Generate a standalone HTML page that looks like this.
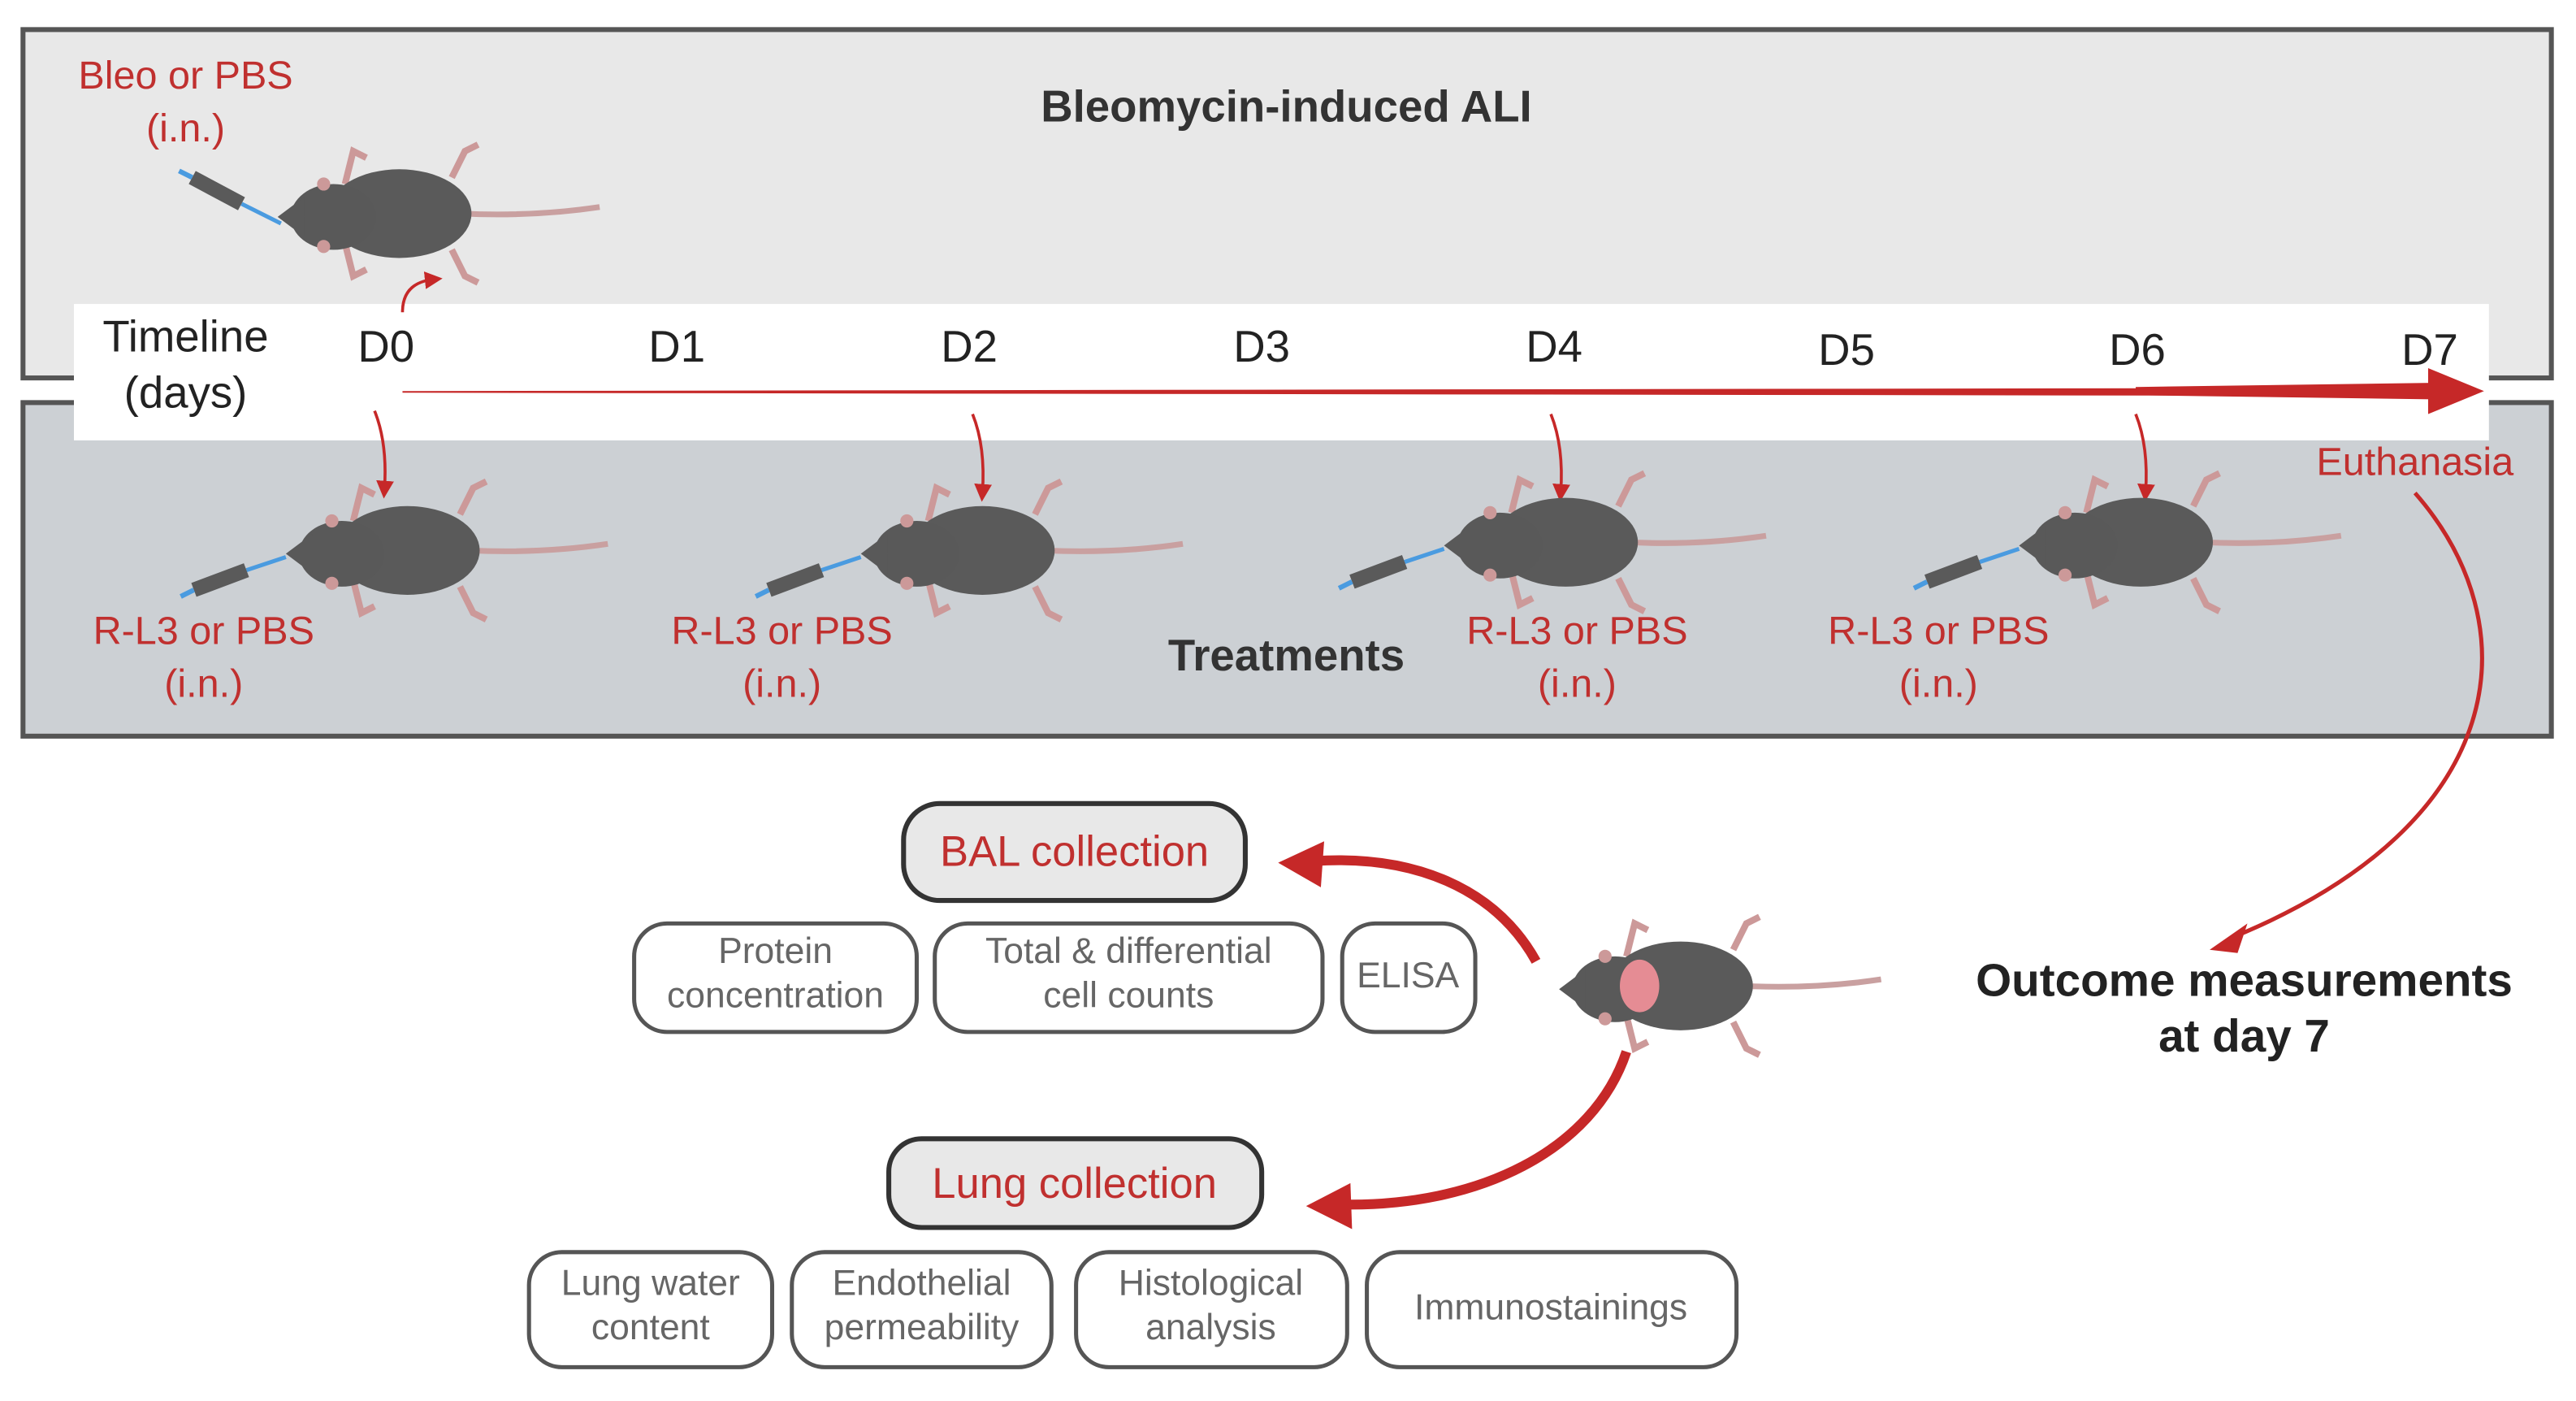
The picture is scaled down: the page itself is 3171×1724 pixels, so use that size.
<!DOCTYPE html>
<html><head><meta charset="utf-8"><style>
html,body{margin:0;padding:0;background:#fff;}
svg{display:block;}
text{font-family:"Liberation Sans",sans-serif;}
</style></head><body>
<svg width="3171" height="1724" viewBox="0 0 1568 852.6" preserveAspectRatio="none" xmlns="http://www.w3.org/2000/svg">
<defs>
<g id="m">
  <path d="M-25,-18 L-20,-38 L-12,-34 M40,-22 L48,-38 L56,-42 M-25,18 L-20,38 L-12,34 M40,22 L48,38 L56,42" stroke="#c99" stroke-width="4" fill="none"/>
  <path d="M46,0 Q90,2 130,-4" stroke="#c9a0a0" stroke-width="3.5" fill="none"/>
  <ellipse cx="8" cy="0" rx="44" ry="27" fill="#5a5a5a"/>
  <ellipse cx="-32" cy="2" rx="26" ry="20" fill="#595959"/>
  <path d="M-50,-10 L-66,2 L-50,14 Z" fill="#595959"/>
  <circle cx="-38" cy="-18" r="4" fill="#c99"/><circle cx="-38" cy="20" r="4" fill="#c99"/>
</g>
<g id="s">
  <path d="M-66,4 L-90,12" stroke="#4a9be0" stroke-width="2.5"/>
  <path d="M-90,12 L-122,24" stroke="#5a5a5a" stroke-width="9"/>
  <path d="M-122,24 L-130,28" stroke="#4a9be0" stroke-width="3"/>
</g>
<g id="su">
  <path d="M-64,6 L-88,-6" stroke="#4a9be0" stroke-width="2.5"/>
  <path d="M-88,-6 L-118,-22" stroke="#5a5a5a" stroke-width="9"/>
  <path d="M-118,-22 L-126,-26" stroke="#4a9be0" stroke-width="3"/>
</g>
<marker id="ah" markerWidth="6" markerHeight="6" refX="3" refY="3" orient="auto"><path d="M0,0 L6,3 L0,6 Z" fill="#c62828"/></marker>
</defs>
<rect x="14" y="18" width="1539" height="212" fill="#e8e8e8" stroke="#555" stroke-width="3"/>
<rect x="14" y="245" width="1539" height="203" fill="#ccd0d4" stroke="#555" stroke-width="3"/>
<rect x="45" y="185" width="1470" height="83" fill="#fff"/>
<text x="783" y="74" font-size="27" fill="#333" text-anchor="middle" font-weight="bold">Bleomycin-induced ALI</text>
<g fill="#c0302f" font-size="24" text-anchor="middle">
<text x="113" y="54">Bleo or PBS</text><text x="113" y="86">(i.n.)</text>
<text x="1470" y="289">Euthanasia</text>
<text x="124" y="392">R-L3 or PBS</text><text x="124" y="424">(i.n.)</text>
<text x="476" y="392">R-L3 or PBS</text><text x="476" y="424">(i.n.)</text>
<text x="960" y="392">R-L3 or PBS</text><text x="960" y="424">(i.n.)</text>
<text x="1180" y="392">R-L3 or PBS</text><text x="1180" y="424">(i.n.)</text>
</g>
<g font-size="27" fill="#222" text-anchor="middle">
<text x="113" y="214">Timeline</text><text x="113" y="248">(days)</text>
<text x="235" y="220">D0</text><text x="412" y="220">D1</text><text x="590" y="220">D2</text><text x="768" y="220">D3</text>
<text x="946" y="220">D4</text><text x="1124" y="222">D5</text><text x="1301" y="222">D6</text><text x="1479" y="222">D7</text>
</g>
<path d="M245,238 L1480,236 L1480,241 L245,239 Z" fill="#c62828"/>
<path d="M1300,235.5 L1480,233 L1480,243 L1300,240.5Z" fill="#c62828"/>
<path d="M1478,224 L1512,238 L1478,252 Z" fill="#c62828"/>
<text x="783" y="408" font-size="27" fill="#333" text-anchor="middle" font-weight="bold">Treatments</text>
<g stroke="#c62828" stroke-width="1.8" fill="none" marker-end="url(#ah)">
<path d="M245,190 Q245,172 264,170"/>
<path d="M228,250 Q236,270 234,298"/>
<path d="M592,252 Q600,272 598,300"/>
<path d="M944,252 Q952,272 950,300"/>
<path d="M1300,252 Q1308,272 1306,300"/>
</g>
<use href="#m" x="235" y="130"/><use href="#su" x="235" y="130"/>
<use href="#m" x="240" y="335"/><use href="#s" x="240" y="335"/>
<use href="#m" x="590" y="335"/><use href="#s" x="590" y="335"/>
<use href="#m" x="945" y="330"/><use href="#s" x="945" y="330"/>
<use href="#m" x="1295" y="330"/><use href="#s" x="1295" y="330"/>
<use href="#m" x="1015" y="600"/>
<ellipse cx="998" cy="600" rx="12" ry="16" fill="#e58c94"/>
<path d="M1470,300 C1540,380 1530,500 1360,570" stroke="#c62828" stroke-width="2.5" fill="none"/>
<path d="M1345,578 L1368,562 L1362,580 Z" fill="#c62828"/>
<g font-size="28" fill="#222" text-anchor="middle" font-weight="bold">
<text x="1366" y="606">Outcome measurements</text><text x="1366" y="640">at day 7</text>
</g>
<path d="M935,585 C910,540 860,520 800,524" stroke="#c62828" stroke-width="6" fill="none"/>
<path d="M778,525 L806,512 L804,540 Z" fill="#c62828"/>
<path d="M990,640 C970,700 900,735 815,733" stroke="#c62828" stroke-width="6" fill="none"/>
<path d="M795,734 L822,720 L823,748 Z" fill="#c62828"/>
<rect x="550" y="489" width="208" height="59" rx="22" fill="#e8e8e8" stroke="#333" stroke-width="3"/>
<rect x="541" y="693" width="227" height="54" rx="20" fill="#e8e8e8" stroke="#333" stroke-width="3"/>
<g font-size="26" fill="#c0302f" text-anchor="middle">
<text x="654" y="527">BAL collection</text><text x="654" y="729">Lung collection</text>
</g>
<g fill="#fff" stroke="#555" stroke-width="2.5">
<rect x="386" y="562" width="172" height="66" rx="20"/>
<rect x="569" y="562" width="236" height="66" rx="20"/>
<rect x="817" y="562" width="81" height="66" rx="20"/>
<rect x="322" y="762" width="148" height="70" rx="20"/>
<rect x="482" y="762" width="158" height="70" rx="20"/>
<rect x="655" y="762" width="165" height="70" rx="20"/>
<rect x="832" y="762" width="225" height="70" rx="20"/>
</g>
<g font-size="22" fill="#666" text-anchor="middle">
<text x="472" y="586">Protein</text><text x="472" y="613">concentration</text>
<text x="687" y="586">Total &amp; differential</text><text x="687" y="613">cell counts</text>
<text x="857" y="601">ELISA</text>
<text x="396" y="788">Lung water</text><text x="396" y="815">content</text>
<text x="561" y="788">Endothelial</text><text x="561" y="815">permeability</text>
<text x="737" y="788">Histological</text><text x="737" y="815">analysis</text>
<text x="944" y="803">Immunostainings</text>
</g>
</svg>
</body></html>
